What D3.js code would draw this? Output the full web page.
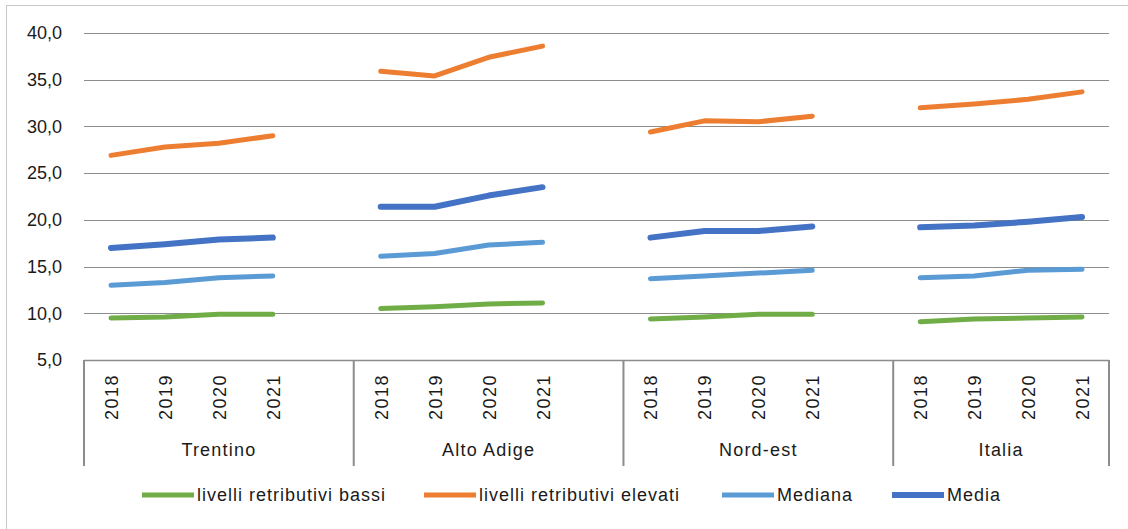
<!DOCTYPE html>
<html><head><meta charset="utf-8">
<script src="https://cdn.jsdelivr.net/npm/d3@7"></script>
<style>body{margin:0;background:#fff}svg{display:block}text{font-family:"Liberation Sans",Arial,sans-serif;fill:#1a1a1a}</style>
</head><body>
<svg id="c" width="1128" height="529"></svg>
<script>
const groups = ["Trentino","Alto Adige","Nord-est","Italia"];
const years = ["2018","2019","2020","2021"];
const yTicks = [5,10,15,20,25,30,35,40];
const seriesNames = ["livelli retributivi bassi","livelli retributivi elevati","Mediana","Media"];
const bassi   = [[9.5,9.6,9.9,9.9],[10.5,10.7,11.0,11.1],[9.4,9.6,9.9,9.9],[9.1,9.4,9.5,9.6]];
const elevati = [[26.9,27.8,28.2,29.0],[35.9,35.4,37.4,38.6],[29.4,30.6,30.5,31.1],[32.0,32.4,32.9,33.7]];
const mediana = [[13.0,13.3,13.8,14.0],[16.1,16.4,17.3,17.6],[13.7,14.0,14.3,14.6],[13.8,14.0,14.6,14.7]];
const media   = [[17.0,17.4,17.9,18.1],[21.4,21.4,22.6,23.5],[18.1,18.8,18.8,19.3],[19.2,19.4,19.8,20.3]];

const colors = ["#70AD47","#ED7D31","#5B9BD5","#4472C4"];
const widths = [5,5,5,6];
const allSeries = [bassi,elevati,mediana,media];

const svg = d3.select("#c");
const mLeft = 84, mRight = 1109, mTop = 33, mBottom = 360;

// border (left & top visible)
svg.append("rect").attr("x",6.5).attr("y",5.5).attr("width",1200).attr("height",600)
  .attr("fill","none").attr("stroke","#c8c8c8").attr("stroke-width",1);

// category slots: 4 years per group + gap slot between groups
const slots = [];
groups.forEach((g,gi)=>{ years.forEach(yr=>slots.push(g+"|"+yr)); if(gi<groups.length-1) slots.push("gap"+gi); });
const x = d3.scaleBand().domain(slots).range([mLeft,mRight]).padding(0);
const y = d3.scaleLinear().domain([5,40]).range([mBottom,mTop]);

// gridlines
svg.append("g").selectAll("line").data(yTicks.filter(t=>t>5)).join("line")
  .attr("x1",mLeft).attr("x2",mRight).attr("y1",d=>Math.round(y(d))+0.5).attr("y2",d=>Math.round(y(d))+0.5)
  .attr("stroke","#8c8c8c").attr("stroke-width",1.2);

// y labels
svg.append("g").selectAll("text").data(yTicks).join("text")
  .attr("x",62).attr("y",d=>y(d)).attr("dy","0.35em").attr("text-anchor","end")
  .style("font-size","18px").text(d=>d.toFixed(1).replace(".",","));

// x axis line and dividers
svg.append("line").attr("x1",mLeft).attr("x2",mRight).attr("y1",mBottom+0.5).attr("y2",mBottom+0.5)
  .attr("stroke","#8c8c8c").attr("stroke-width",1.5);
const dividerX = [mLeft];
groups.forEach((g,gi)=>{ if(gi<groups.length-1) dividerX.push(x("gap"+gi)+x.bandwidth()); });
dividerX.push(mRight);
svg.append("g").selectAll("line").data(dividerX).join("line")
  .attr("x1",d=>d).attr("x2",d=>d).attr("y1",mBottom).attr("y2",466)
  .attr("stroke","#8c8c8c").attr("stroke-width",2);

// year labels
groups.forEach(g=>{
  years.forEach(yr=>{
    const cx = x(g+"|"+yr)+x.bandwidth()/2;
    svg.append("text").attr("transform",`translate(${cx+7},374) rotate(-90)`)
      .attr("text-anchor","end").style("font-size","18px").style("letter-spacing","1.5px").text(yr);
  });
});
// group labels
groups.forEach((g,gi)=>{
  const x0 = dividerX[gi], x1 = dividerX[gi+1];
  svg.append("text").attr("x",(x0+x1)/2).attr("y",456).attr("text-anchor","middle")
    .style("font-size","18px").style("letter-spacing","1.2px").text(g);
});

// lines
const line = d3.line().x(d=>d[0]).y(d=>d[1]);
allSeries.forEach((s,si)=>{
  groups.forEach((g,gi)=>{
    const pts = years.map((yr,yi)=>[x(g+"|"+yr)+x.bandwidth()/2, y(s[gi][yi])]);
    svg.append("path").attr("d",line(pts)).attr("fill","none").attr("stroke",colors[si])
      .attr("stroke-width",widths[si]).attr("stroke-linecap","round").attr("stroke-linejoin","round");
  });
});

// legend
const legendX = [142,424,722,892];
seriesNames.forEach((n,i)=>{
  const lx = legendX[i];
  svg.append("line").attr("x1",lx).attr("x2",lx+52).attr("y1",495).attr("y2",495)
    .attr("stroke",colors[i]).attr("stroke-width",widths[i]);
  svg.append("text").attr("x",lx+55).attr("y",495).attr("dy","0.35em")
    .style("font-size","18px").style("letter-spacing","1px").text(n);
});
</script>
</body></html>
